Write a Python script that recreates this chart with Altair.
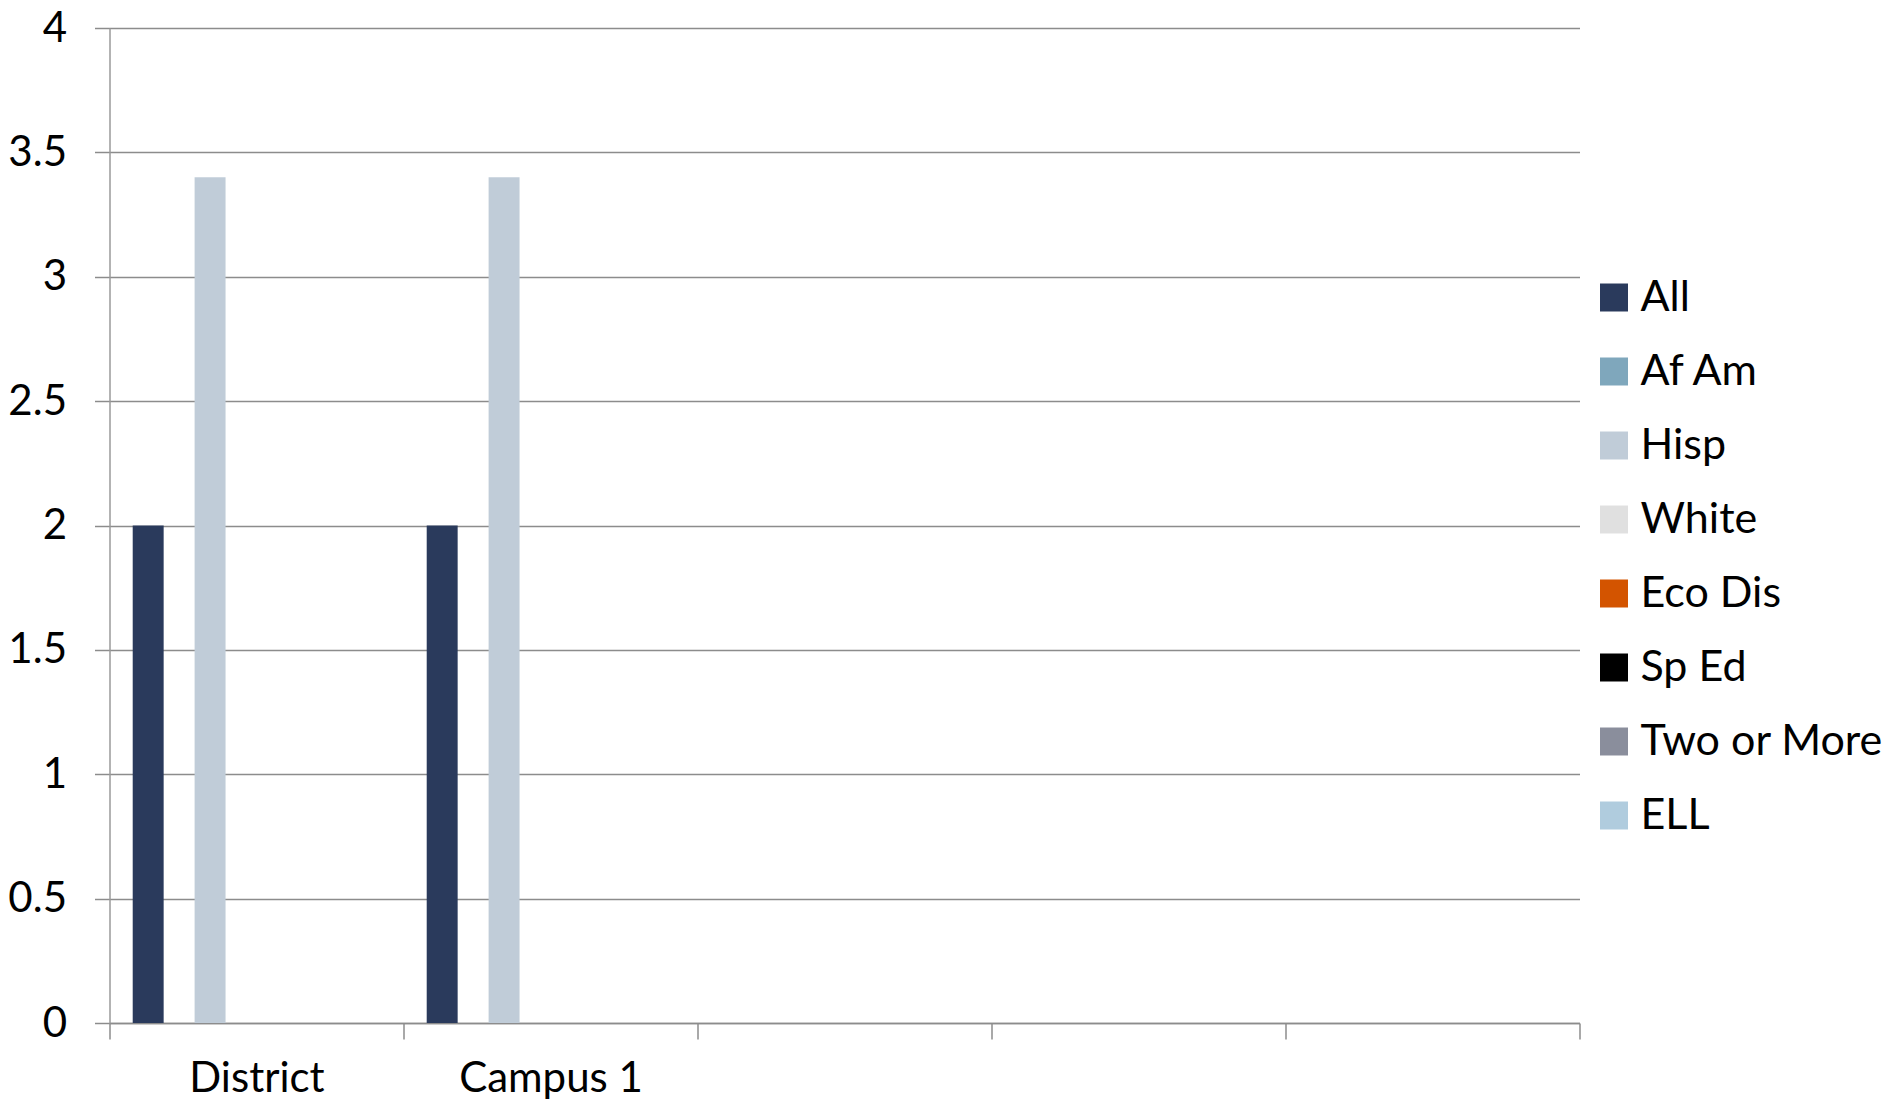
import altair as alt
import pandas as pd

categories = ["District", "Campus 1", " ", "  ", "   "]
series = ["All", "Af Am", "Hisp", "White", "Eco Dis", "Sp Ed", "Two or More", "ELL"]
colors = ["#2A3A5C", "#7FA7BC", "#C0CCD8", "#E0E0E0", "#D35400", "#000000", "#8A8E9C", "#B0CCDE"]

all_vals = [2, 2, None, None, None]
afam_vals = [None, None, None, None, None]
hisp_vals = [3.4, 3.4, None, None, None]
white_vals = [None, None, None, None, None]
ecodis_vals = [None, None, None, None, None]
sped_vals = [None, None, None, None, None]
two_vals = [None, None, None, None, None]
ell_vals = [None, None, None, None, None]

series_values = [all_vals, afam_vals, hisp_vals, white_vals, ecodis_vals, sped_vals, two_vals, ell_vals]

rows = []
for s, vals in zip(series, series_values):
    for c, v in zip(categories, vals):
        if v is not None:
            rows.append({"category": c, "series": s, "value": v})
df = pd.DataFrame(rows)

FONT = "Lato"
FS = 42
W, H = 1470, 995

chart = alt.Chart(df).mark_bar().encode(
    x=alt.X("category:N",
            scale=alt.Scale(domain=categories, paddingInner=0, paddingOuter=0),
            axis=alt.Axis(title=None, labelAngle=0, tickBand="extent", tickSize=16,
                          tickColor="#8C8C8C", tickWidth=1.5, domainColor="#8C8C8C", domainWidth=1.5,
                          labelFont=FONT, labelFontSize=FS, labelColor="#000000", labelPadding=19,
                          labelLimit=400, grid=False)),
    xOffset=alt.XOffset("series:N", scale=alt.Scale(domain=series, paddingInner=0, paddingOuter=0.75)),
    y=alt.Y("value:Q",
            scale=alt.Scale(domain=[0, 4], nice=False),
            axis=alt.Axis(title=None, values=[0, 0.5, 1, 1.5, 2, 2.5, 3, 3.5, 4], format="~g",
                          tickSize=15, tickColor="#8C8C8C", tickWidth=1.5,
                          domainColor="#9A9A9A", domainWidth=1.5,
                          gridColor="#8C8C8C", gridWidth=1.5,
                          labelFont=FONT, labelFontSize=FS, labelColor="#000000", labelPadding=28)),
    color=alt.Color("series:N", scale=alt.Scale(domain=series, range=colors),
                    legend=alt.Legend(title=None, orient="none", legendX=1483, legendY=248,
                                      symbolType="square", symbolSize=784, symbolStrokeWidth=0,
                                      labelFont=FONT, labelFontSize=43, labelColor="#000000",
                                      labelOffset=5, rowPadding=30, padding=0,
                                      labelLimit=400)),
).properties(
    width=W, height=H,
    autosize=alt.AutoSizeParams(type="none"),
    padding={"left": 101.5, "top": 20, "right": 309, "bottom": 78},
).configure_view(strokeWidth=0)

chart.save("out.html", embed_options={"renderer": "svg", "actions": False})
